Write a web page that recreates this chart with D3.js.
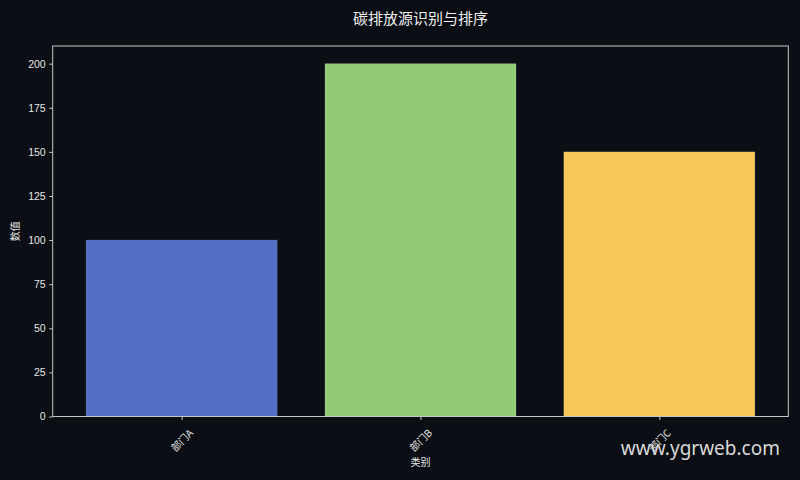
<!DOCTYPE html>
<html lang="zh">
<head>
  <meta charset="UTF-8">
  <title>碳排放源识别与排序</title>
  <script src="https://d3js.org/d3.v7.min.js"></script>
  <style>
    body { margin: 0; background: #0b0e14; }
    svg text { font-family: "Noto Sans CJK SC", "Noto Sans", sans-serif; }
  </style>
</head>
<body>
  <svg id="chart" width="800" height="480"></svg>

  <script>
    // Chart data
    const categories = ["部门A", "部门B", "部门C"];
    const values = [100, 200, 150];
    const barColors = ["#5470c6", "#91cc75", "#fac858"];
    const yTicks = [0, 25, 50, 75, 100, 125, 150, 175, 200];

    const svg = d3.select("#chart");
    const plotLeft = 52.7, plotRight = 788.3, plotTop = 46, plotBottom = 416.5;

    svg.append("rect").attr("width", 800).attr("height", 480).attr("fill", "#0b0e14");

    // matplotlib-like limits: bars of width 0.8 with 5% margins
    const x = d3.scaleLinear().domain([-0.54, 2.54]).range([plotLeft, plotRight]);
    const y = d3.scaleLinear().domain([0, 210]).range([plotBottom, plotTop]);

    // Bars
    svg.selectAll(".bar")
      .data(values)
      .enter()
      .append("rect")
      .attr("class", "bar")
      .attr("x", (d, i) => x(i - 0.4))
      .attr("width", (d, i) => x(i + 0.4) - x(i - 0.4))
      .attr("y", d => y(d))
      .attr("height", d => y(0) - y(d))
      .attr("fill", (d, i) => barColors[i])
      .attr("stroke", "rgba(255,255,255,0.15)")
      .attr("stroke-width", 0.8);

    // Frame
    svg.append("rect")
      .attr("x", plotLeft).attr("y", plotTop)
      .attr("width", plotRight - plotLeft).attr("height", plotBottom - plotTop)
      .attr("fill", "none")
      .attr("stroke", "#c8c8c8")
      .attr("stroke-width", 1);

    // Y axis
    const yAxis = d3.axisLeft(y).tickValues(yTicks).tickSize(3.5).tickPadding(3.5);
    const yg = svg.append("g").attr("transform", `translate(${plotLeft},0)`).call(yAxis);
    yg.select(".domain").remove();
    yg.selectAll(".tick line").attr("stroke", "#c8c8c8");
    yg.selectAll(".tick text")
      .attr("fill", "#e6e6e6")
      .style("font-size", "10.5px")
      .style("font-family", "'Liberation Sans', Arial, sans-serif");

    // X axis
    const xAxis = d3.axisBottom(x).tickValues([0, 1, 2]).tickFormat(i => categories[i]).tickSize(3.5);
    const xg = svg.append("g").attr("transform", `translate(0,${plotBottom})`).call(xAxis);
    xg.select(".domain").remove();
    xg.selectAll(".tick line").attr("stroke", "#c8c8c8");
    xg.selectAll(".tick text")
      .attr("fill", "#e6e6e6")
      .style("font-size", "10px")
      .attr("y", 0).attr("dy", "0.35em")
      .attr("text-anchor", "middle")
      .attr("transform", "translate(0,24) rotate(-45)");

    // Titles
    svg.append("text")
      .attr("x", (plotLeft + plotRight) / 2).attr("y", 24)
      .attr("text-anchor", "middle")
      .attr("fill", "#f0f0f0")
      .style("font-size", "15px")
      .text("碳排放源识别与排序");

    svg.append("text")
      .attr("x", (plotLeft + plotRight) / 2).attr("y", 466)
      .attr("text-anchor", "middle")
      .attr("fill", "#e6e6e6")
      .style("font-size", "10px")
      .text("类别");

    svg.append("text")
      .attr("transform", `translate(19,${(plotTop + plotBottom) / 2}) rotate(-90)`)
      .attr("text-anchor", "middle")
      .attr("fill", "#e6e6e6")
      .style("font-size", "10px")
      .text("数值");

    // Watermark
    svg.append("text")
      .attr("x", 780).attr("y", 455)
      .attr("text-anchor", "end")
      .attr("fill", "#d8d8d8")
      .style("font-size", "19px")
      .style("font-family", "'Noto Sans', sans-serif")
      .text("www.ygrweb.com");
  </script>
</body>
</html>
